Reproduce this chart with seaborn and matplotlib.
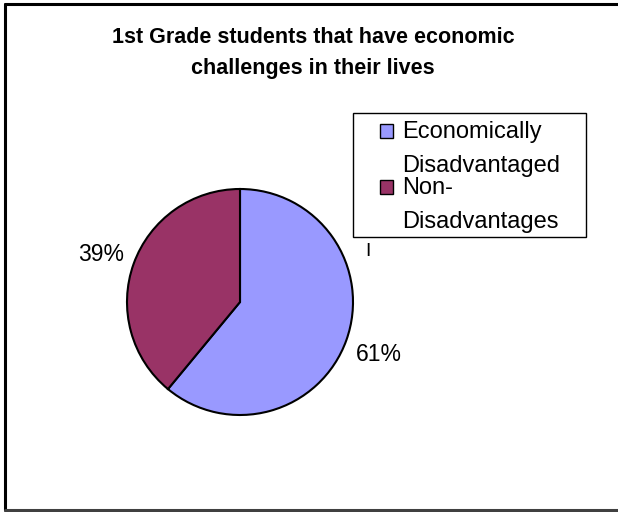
import matplotlib
matplotlib.use("Agg")
import matplotlib.pyplot as plt
from matplotlib.lines import Line2D
from matplotlib.patches import Rectangle
import seaborn as sns

# Share of 1st grade students by economic status
categories = ["Economically\nDisadvantaged", "Non-\nDisadvantages"]
shares = [61, 39]
slice_colors = ["#9999FF", "#993366"]
title_text = "1st Grade students that have economic\nchallenges in their lives"

sns.set_theme(style="white")
plt.rcParams["font.family"] = ["Liberation Sans", "DejaVu Sans"]
plt.rcParams["text.color"] = "black"

W, H = 618, 512
fig = plt.figure(figsize=(W / 100, H / 100), dpi=100)
fig.patch.set_facecolor("white")


def fx(px):
    return px / W


def fy(py):
    return 1 - py / H


# Pie axes: circle centred near (240, 302) px with radius ~113 px
cx, cy, r = 240, 302, 113
ax = fig.add_axes([(cx - r) / W, (H - cy - r) / H, 2 * r / W, 2 * r / H])
wedges, _, autotexts = ax.pie(
    shares,
    colors=slice_colors,
    startangle=90,
    counterclock=False,
    autopct="%1.0f%%",
    pctdistance=1.31,
    wedgeprops=dict(edgecolor="black", linewidth=1.5),
    textprops=dict(fontsize=16.5, color="black"),
)
ax.set_xlim(-1, 1)
ax.set_ylim(-1, 1)
ax.set_aspect("equal", adjustable="box")
ax.axis("off")
for t in autotexts:
    x, y = t.get_position()
    t.set_position((x, y - 0.02))

fig.text(fx(313), fy(27), title_text, ha="center", va="top", color="black",
         fontsize=15.5, fontweight="bold", linespacing=1.6)

# Legend box with one swatch per slice, swatch aligned to the first text line
leg_ax = fig.add_axes([0, 0, 1, 1], facecolor="none")
leg_ax.set_xlim(0, W)
leg_ax.set_ylim(H, 0)
leg_ax.axis("off")
leg_ax.add_patch(Rectangle((353, 113), 586 - 353, 237 - 113, facecolor="white",
                           edgecolor="black", linewidth=1.0))
entry_tops = [121, 177]
line_gap = 34
for top, label, color in zip(entry_tops, categories, slice_colors):
    leg_ax.add_patch(Rectangle((380, top + 3), 13, 14, facecolor=color,
                               edgecolor="black", linewidth=1.0))
    for i, line in enumerate(label.split("\n")):
        leg_ax.text(402, top + 17 + i * line_gap, line, ha="left", va="baseline",
                    fontsize=17, color="black")

# Stray marker text beside the legend
leg_ax.text(365, 252, "I", ha="left", va="center", fontsize=14, color="black")

# Chart area border (left, top, bottom)
fig.add_artist(Line2D([fx(5), fx(5)], [fy(4), fy(510)], transform=fig.transFigure,
                      color="black", linewidth=2.2))
fig.add_artist(Line2D([fx(5), 1.0], [fy(4), fy(4)], transform=fig.transFigure,
                      color="black", linewidth=2.2))
fig.add_artist(Line2D([fx(5), 1.0], [fy(510), fy(510)], transform=fig.transFigure,
                      color="#404040", linewidth=2.2))

fig.savefig("out.png", dpi=100, facecolor="white")
